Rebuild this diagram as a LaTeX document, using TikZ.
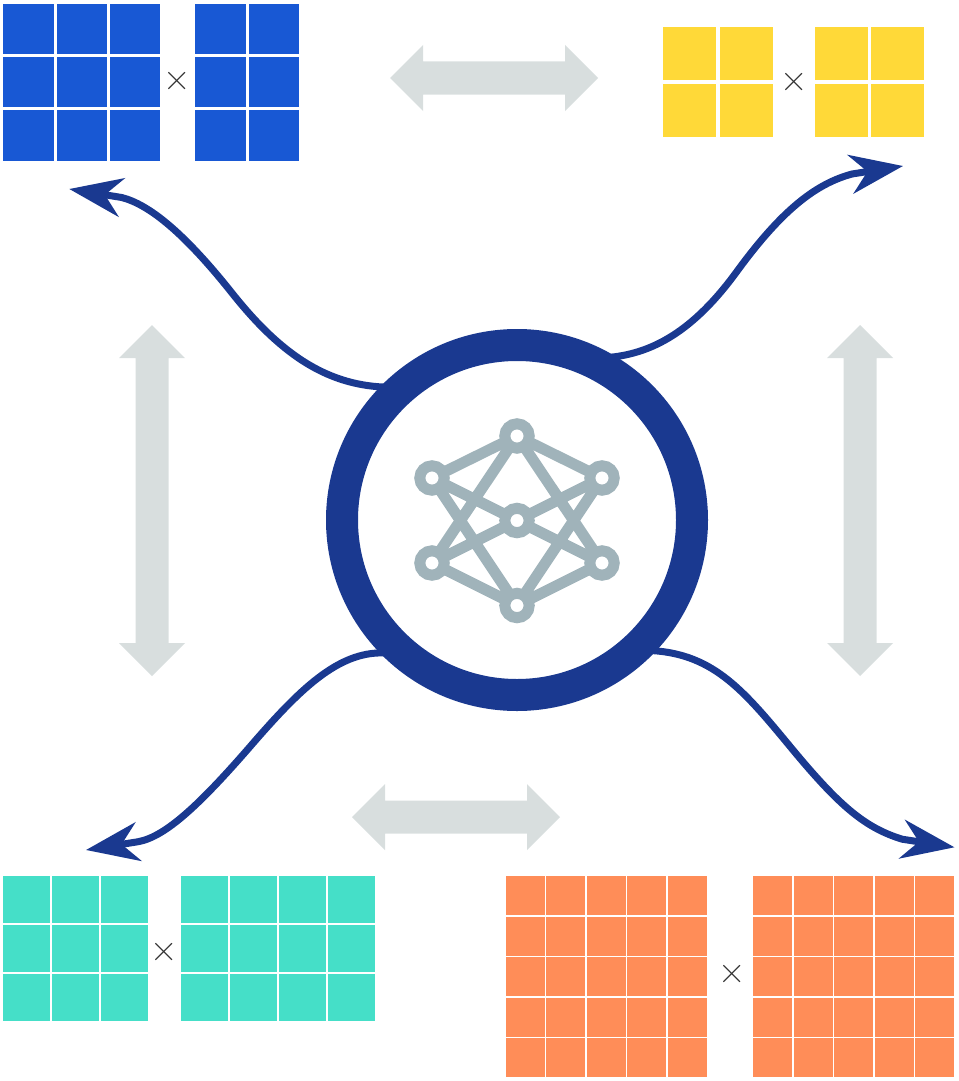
\documentclass[tikz,border=0pt]{standalone}
\usetikzlibrary{arrows.meta}
\definecolor{navy}{HTML}{1A3990}
\definecolor{paleg}{HTML}{D8DEDE}
\definecolor{netg}{HTML}{A0B3BA}
\definecolor{gblue}{HTML}{1858D4}
\definecolor{gyellow}{HTML}{FFD938}
\definecolor{gteal}{HTML}{45DFC8}
\definecolor{gorange}{HTML}{FF8D58}
\newcommand{\cellgrid}[7]{% x y cols rows cell pitch colour
  \foreach \ci in {1,...,#3}{\foreach \cj in {1,...,#4}{
    \fill[#7] ({#1+(\ci-1)*#6},{#2+(\cj-1)*#6}) rectangle ++(#5,#5);}}}
\tikzset{
  timesign/.style={inner sep=0pt,text=black!80,font=\fontsize{38}{38}\selectfont},
  flow/.style={draw=navy,line width=7pt,-{Stealth[length=53pt,width=39pt,inset=17pt]}},
  netline/.style={draw=netg,line width=11pt},
  netnode/.style={circle,draw=netg,line width=11pt,minimum size=24.4pt,inner sep=0pt,outer sep=0pt,fill=white},
  hubring/.style={circle,draw=navy,line width=32pt,minimum size=350pt,inner sep=0pt,outer sep=13pt}
}
\newcommand{\hdbl}[3]{% left right y
  \fill[paleg] (#1,#3) -- (#1+33,#3-33) -- (#1+33,#3-16.5) -- (#2-33,#3-16.5) -- (#2-33,#3-33) -- (#2,#3) -- (#2-33,#3+33) -- (#2-33,#3+16.5) -- (#1+33,#3+16.5) -- (#1+33,#3+33) -- cycle;}
\newcommand{\vdbl}[3]{% x top bottom
  \fill[paleg] (#1,#2) -- (#1+33,#2+33) -- (#1+16.5,#2+33) -- (#1+16.5,#3-33) -- (#1+33,#3-33) -- (#1,#3) -- (#1-33,#3-33) -- (#1-16.5,#3-33) -- (#1-16.5,#2+33) -- (#1-33,#2+33) -- cycle;}
\begin{document}
\begin{tikzpicture}[x=1pt,y=-1pt]
\useasboundingbox (0,0) rectangle (958,1081);
% grids
\cellgrid{3.3}{3.7}{3}{3}{50.4}{53.2}{gblue}
\cellgrid{195.3}{3.7}{2}{3}{50.4}{53.2}{gblue}
\cellgrid{663.4}{27}{2}{2}{53}{56.5}{gyellow}
\cellgrid{814.8}{27}{2}{2}{53}{56.5}{gyellow}
\cellgrid{3.3}{876.4}{3}{3}{46.5}{49}{gteal}
\cellgrid{181}{876.4}{4}{3}{46.5}{49}{gteal}
\cellgrid{505.7}{876.4}{5}{5}{38.8}{40.5}{gorange}
\cellgrid{753.4}{876.4}{5}{5}{38.8}{40.5}{gorange}
\node[timesign] (tb) at (177.5,81) {×};
\node[timesign] (ty) at (794.5,82) {×};
\node[timesign] (tt) at (163.7,952) {×};
\node[timesign] (to) at (732,974) {×};
% double arrows
\hdbl{390}{598}{78}
\hdbl{352}{560}{817}
\vdbl{152}{325}{676}
\vdbl{860}{325}{676}
% hub
\node[hubring] (hub) at (517,520) {};
\coordinate (tipul) at (69.3,189);
\coordinate (tipur) at (903,166);
\coordinate (tipll) at (86,850);
\coordinate (tiplr) at (954.5,847.3);
\coordinate (mul) at (232,293);
\coordinate (jul) at (121.7,197.5);
\coordinate (mur) at (736.5,272);
\coordinate (jur) at (852,174);
\coordinate (mll) at (250,746.7);
\coordinate (jll) at (138.2,841.7);
\coordinate (mlr) at (793,750);
\coordinate (jlr) at (902.2,839.2);
\draw[flow] (hub.135) .. controls (324,384.5) and (278.5,351.5) .. (mul) .. controls (185.5,234.5) and (150,204.7) .. (jul) -- (tipul);
\draw[flow] (hub.60) .. controls (651,353) and (692,333) .. (mur) .. controls (781,211) and (815,184) .. (jur) -- (tipur);
\draw[flow] (hub.225) .. controls (337.7,651.4) and (299,690) .. (mll) .. controls (200.8,803.3) and (166,836.6) .. (jll) -- (tipll);
\draw[flow] (hub.316) .. controls (715,654.5) and (745,692) .. (mlr) .. controls (841,807.8) and (866,828) .. (jlr) -- (tiplr);
% network
\coordinate (nt) at (517,436);
\coordinate (nul) at (432,478);
\coordinate (nur) at (602,478);
\coordinate (nc) at (517,520.5);
\coordinate (nll) at (432,563);
\coordinate (nlr) at (602,563);
\coordinate (nb) at (517,605.5);
\draw[netline] (nt)--(nul) (nt)--(nur) (nb)--(nll) (nb)--(nlr)
  (nt)--(nll) (nt)--(nlr) (nb)--(nul) (nb)--(nur)
  (nul)--(nlr) (nur)--(nll);
\foreach \p/\q in {nt/Nt,nul/Nul,nur/Nur,nc/Nc,nll/Nll,nlr/Nlr,nb/Nb}
  \node[netnode] (\q) at (\p) {};
\end{tikzpicture}
\end{document}
